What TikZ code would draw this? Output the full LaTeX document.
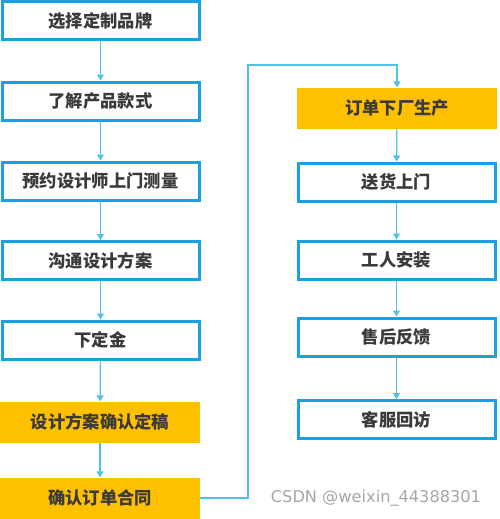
\documentclass[tikz,border=0pt]{standalone}
\usepackage{fontspec}
\setmainfont{Noto Sans CJK SC}
\newfontfamily\markfont{DejaVu Sans}
\usetikzlibrary{arrows.meta}
\definecolor{framecol}{HTML}{1BA1E2}
\definecolor{linecol}{HTML}{4FC1EA}
\definecolor{goldcol}{HTML}{FFC000}
\definecolor{textcol}{HTML}{3A3A3A}
\tikzstyle{stepbox}=[draw=framecol,line width=3pt,fill=white,minimum width=197pt,minimum height=38pt,inner sep=0pt,text=textcol,font=\bfseries\fontsize{17.3}{17.3}\selectfont]
\tikzstyle{keybox}=[fill=goldcol,minimum width=200pt,minimum height=41pt,inner sep=0pt,text=textcol,font=\bfseries\fontsize{17.3}{17.3}\selectfont]
\tikzstyle{flow}=[linecol,line width=1.2pt,-{Triangle[width=7pt,length=6pt]}]
\tikzstyle{wm}=[text=black!35,font=\markfont\fontsize{16.2}{16.2}\selectfont]

\begin{document}
\begin{tikzpicture}[x=1pt,y=-1pt]
	\useasboundingbox (0,0) rectangle (499,519);

	% left column
	\node[stepbox] (brand) at (100.5,21) {选择定制品牌};
	\node[stepbox] (style) at (100.5,101) {了解产品款式};
	\node[stepbox] (measure) at (100.5,181) {预约设计师上门测量};
	\node[stepbox] (plan) at (100.5,260.5) {沟通设计方案};
	\node[stepbox] (deposit) at (100.5,340) {下定金};
	\node[keybox] (confirm) at (100,422) {设计方案确认定稿};
	\node[keybox] (contract) at (100,498) {确认订单合同};

	% right column
	\node[keybox] (produce) at (397,108) {订单下厂生产};
	\node[stepbox] (deliver) at (396.5,182) {送货上门};
	\node[stepbox] (install) at (396.5,260) {工人安装};
	\node[stepbox] (feedback) at (396.5,337) {售后反馈};
	\node[stepbox] (revisit) at (396.5,419.5) {客服回访};

	\draw[flow] (brand) -- (style);
	\draw[flow] (style) -- (measure);
	\draw[flow] (measure) -- (plan);
	\draw[flow] (plan) -- (deposit);
	\draw[flow] (deposit) -- (confirm);
	\draw[flow] (confirm) -- (contract);

	\coordinate (turn) at (248,65);
	\draw[flow] (contract.east) -| (turn) -| (produce.north);

	\draw[flow] (produce) -- (deliver);
	\draw[flow] (deliver) -- (install);
	\draw[flow] (install) -- (feedback);
	\draw[flow] (feedback) -- (revisit);

	\node[wm] (mark) at (376,498) {CSDN @weixin\_44388301};
\end{tikzpicture}
\end{document}
